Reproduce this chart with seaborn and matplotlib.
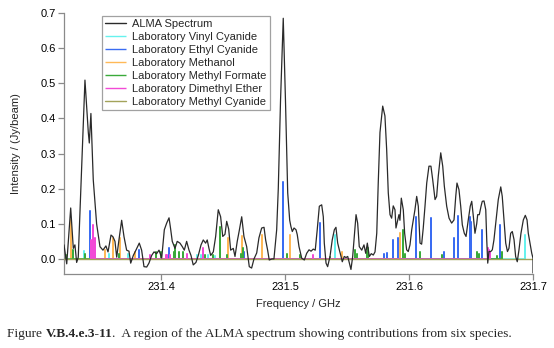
import matplotlib
matplotlib.use("Agg")
import matplotlib.pyplot as plt
import seaborn as sns
import pandas as pd

# ---- ALMA spectrum (frequency GHz, intensity Jy/beam) ----
alma_freq = [231.3218, 231.3240, 231.3272, 231.3293, 231.3306, 231.3320, 231.3333, 231.3360,
             231.3387, 231.3414, 231.3422, 231.3435, 231.3454, 231.3481, 231.3508, 231.3532,
             231.3556, 231.3573, 231.3597, 231.3613, 231.3629, 231.3643, 231.3661, 231.3683,
             231.3702, 231.3723, 231.3742, 231.3756, 231.3777, 231.3798, 231.3825, 231.3844,
             231.3863, 231.3885, 231.3903, 231.3925, 231.3944, 231.3965, 231.3984, 231.4006,
             231.4027, 231.4046, 231.4065, 231.4078, 231.4091, 231.4113, 231.4131, 231.4153,
             231.4172, 231.4188, 231.4207, 231.4226, 231.4242, 231.4260, 231.4282, 231.4301,
             231.4323, 231.4341, 231.4360, 231.4373, 231.4387, 231.4401, 231.4422, 231.4441,
             231.4462, 231.4481, 231.4498, 231.4516, 231.4530, 231.4546, 231.4562, 231.4583,
             231.4597, 231.4615, 231.4631, 231.4651, 231.4669, 231.4691, 231.4712, 231.4731,
             231.4750, 231.4772, 231.4790, 231.4812, 231.4831, 231.4844, 231.4860, 231.4873,
             231.4895, 231.4911, 231.4933, 231.4946, 231.4964, 231.4986, 231.5004, 231.5022,
             231.5038, 231.5048, 231.5059, 231.5073, 231.5089, 231.5099, 231.5113, 231.5135,
             231.5156, 231.5175, 231.5194, 231.5210, 231.5228, 231.5244, 231.5260, 231.5277,
             231.5296, 231.5309, 231.5317, 231.5331, 231.5344, 231.5363, 231.5381, 231.5398,
             231.5411, 231.5425, 231.5438, 231.5452, 231.5462, 231.5478, 231.5492, 231.5506,
             231.5519, 231.5532, 231.5546, 231.5559, 231.5573, 231.5586, 231.5599, 231.5619,
             231.5637, 231.5651, 231.5664, 231.5680, 231.5696, 231.5712, 231.5726, 231.5740,
             231.5752, 231.5766, 231.5788, 231.5806, 231.5820, 231.5833, 231.5847, 231.5860,
             231.5873, 231.5887, 231.5895, 231.5909, 231.5919, 231.5927, 231.5938, 231.5954,
             231.5965, 231.5981, 231.5994, 231.6008, 231.6022, 231.6035, 231.6048, 231.6062,
             231.6075, 231.6089, 231.6102, 231.6115, 231.6129, 231.6143, 231.6161, 231.6177,
             231.6191, 231.6210, 231.6223, 231.6236, 231.6256, 231.6272, 231.6285, 231.6304,
             231.6323, 231.6344, 231.6363, 231.6377, 231.6387, 231.6403, 231.6417, 231.6430,
             231.6446, 231.6460, 231.6478, 231.6494, 231.6506, 231.6519, 231.6532, 231.6546,
             231.6554, 231.6567, 231.6581, 231.6591, 231.6605, 231.6619, 231.6627, 231.6635,
             231.6645, 231.6659, 231.6672, 231.6685, 231.6702, 231.6720, 231.6740, 231.6752,
             231.6766, 231.6780, 231.6794, 231.6806, 231.6820, 231.6833, 231.6847, 231.6860,
             231.6873, 231.6887, 231.6903, 231.6922, 231.6938, 231.6952, 231.6962, 231.6976,
             231.6990, 231.7000, 231.7000]
alma_int = [0.040, -0.014, 0.145, 0.030, 0.040, -0.010, 0.005, 0.254,
            0.509, 0.360, 0.330, 0.414, 0.225, 0.100, 0.035, 0.025,
            0.037, 0.020, 0.068, 0.063, 0.050, 0.005, 0.054, 0.110,
            0.063, 0.025, 0.022, -0.012, 0.010, 0.025, 0.045, 0.025,
            -0.022, -0.023, -0.012, 0.010, 0.020, 0.015, 0.025, 0.003,
            0.083, 0.102, 0.117, 0.085, 0.050, 0.030, 0.050, 0.045,
            0.035, 0.025, 0.050, 0.025, 0.010, -0.017, -0.010, 0.010,
            0.040, 0.054, 0.045, 0.054, 0.030, 0.010, 0.020, 0.064,
            0.140, 0.120, 0.064, 0.070, 0.107, 0.085, 0.025, 0.030,
            0.007, 0.050, 0.080, 0.120, 0.064, 0.035, -0.022, -0.026,
            0.000, 0.017, 0.060, 0.088, 0.090, 0.054, 0.025, -0.003,
            0.000, 0.000, 0.083, 0.200, 0.450, 0.685, 0.450, 0.188,
            0.110, 0.092, 0.078, 0.088, 0.083, 0.069, 0.035, 0.002,
            -0.003, 0.016, 0.026, 0.022, 0.028, 0.025, 0.083, 0.150,
            0.154, 0.120, 0.045, -0.012, -0.022, 0.007, 0.054, 0.083,
            0.090, 0.045, 0.026, 0.007, -0.008, 0.007, 0.004, 0.007,
            -0.012, -0.030, 0.007, 0.064, 0.126, 0.102, 0.035, 0.025,
            0.040, 0.016, 0.045, 0.007, 0.015, 0.011, 0.020, 0.073,
            0.216, 0.360, 0.435, 0.407, 0.311, 0.188, 0.126, 0.116,
            0.151, 0.140, 0.088, 0.111, 0.126, 0.110, 0.173, 0.140,
            0.073, 0.026, 0.021, 0.040, 0.083, 0.111, 0.140, 0.178,
            0.150, 0.045, 0.042, 0.088, 0.150, 0.216, 0.264, 0.264,
            0.226, 0.169, 0.178, 0.235, 0.302, 0.264, 0.207, 0.150,
            0.116, 0.102, 0.111, 0.178, 0.216, 0.197, 0.150, 0.097,
            0.073, 0.064, 0.111, 0.150, 0.164, 0.121, 0.073, 0.100,
            0.126, 0.126, 0.150, 0.164, 0.165, 0.140, 0.054, -0.012,
            0.021, 0.021, 0.026, 0.054, 0.111, 0.169, 0.205, 0.178,
            0.111, 0.045, 0.021, 0.030, 0.073, 0.078, 0.055, 0.007,
            -0.008, 0.026, 0.073, 0.111, 0.124, 0.111, 0.073, 0.045,
            0.016, 0.002, -0.040]

# ---- Laboratory stick spectra ----
vinyl_freq = [231.3285, 231.3379, 231.3583, 231.3736, 231.4288, 231.4320, 231.4381, 231.4435,
              231.5403, 231.6935]
vinyl_int = [0.025, 0.023, 0.015, 0.015, 0.010, 0.010, 0.010, 0.008, 0.069, 0.069]

ethyl_freq = [231.3427, 231.3462, 231.3823, 231.4067, 231.4669, 231.4981, 231.5282, 231.5798,
              231.5825, 231.5869, 231.5909, 231.6056, 231.6177, 231.6282, 231.6365, 231.6398,
              231.6492, 231.6503, 231.6591, 231.6734]
ethyl_int = [0.135, 0.020, 0.026, 0.030, 0.020, 0.220, 0.102, 0.015,
             0.017, 0.054, 0.060, 0.120, 0.116, 0.020, 0.059, 0.123,
             0.120, 0.105, 0.083, 0.097]

methanol_freq = [231.3272, 231.3548, 231.3610, 231.3672, 231.3790, 231.4543, 231.4651, 231.4812,
                 231.5040, 231.5457, 231.5927]
methanol_int = [0.110, 0.026, 0.059, 0.059, 0.020, 0.059, 0.064, 0.069, 0.069, 0.020, 0.073]

formate_freq = [231.3234, 231.3288, 231.3387, 231.3659, 231.3957, 231.4000, 231.4105, 231.4113,
                231.4148, 231.4180, 231.4355, 231.4422, 231.4472, 231.4530, 231.4643, 231.4659,
                231.5019, 231.5121, 231.5363, 231.5565, 231.5583, 231.5659, 231.5672, 231.5949,
                231.5968, 231.6089, 231.6269, 231.6546, 231.6565, 231.6710, 231.6752]
formate_int = [0.010, 0.026, 0.015, 0.015, 0.020, 0.020, 0.020, 0.040,
               0.020, 0.020, 0.010, 0.010, 0.092, 0.010, 0.015, 0.030,
               0.015, 0.010, 0.005, 0.025, 0.015, 0.020, 0.030, 0.083,
               0.015, 0.020, 0.010, 0.020, 0.015, 0.008, 0.020]

dme_freq = [231.3433, 231.3449, 231.3470, 231.3911, 231.4038, 231.4051, 231.4075, 231.4212,
            231.4341, 231.5228, 231.6637, 231.6645, 231.6656]
dme_int = [0.054, 0.097, 0.059, 0.011, 0.010, 0.010, 0.012, 0.013,
           0.030, 0.012, 0.030, 0.026, 0.020]

mecn_freq = [231.3218, 231.7000]
mecn_int = [0.0, 0.0]

labels = ["ALMA Spectrum", "Laboratory Vinyl Cyanide", "Laboratory Ethyl Cyanide",
          "Laboratory Methanol", "Laboratory Methyl Formate", "Laboratory Dimethyl Ether",
          "Laboratory Methyl Cyanide"]
colors = ["#2a2a2a", "#66f2ee", "#3a6cf2", "#ffb957", "#3aaa3a", "#f24ad6", "#a3a35a"]

x_ticks = [231.4, 231.5, 231.6, 231.7]
x_ticklabels = ["231.4", "231.5", "231.6", "231.7"]
y_ticks = [0.0, 0.1, 0.2, 0.3, 0.4, 0.5, 0.6, 0.7]
y_ticklabels = ["0.0", "0.1", "0.2", "0.3", "0.4", "0.5", "0.6", "0.7"]


def sticks(freq, inten):
    xs, ys = [], []
    for f, h in zip(freq, inten):
        xs += [f, f, f]
        ys += [0.0, h, 0.0]
    return xs, ys


sns.set_theme(style="white")
plt.rcParams['font.family'] = ['Liberation Sans', 'DejaVu Sans']

fig = plt.figure(figsize=(5.54, 3.48), dpi=100)
ax = fig.add_axes([64 / 554, 1 - 274 / 348, (533 - 64) / 554, (274 - 13) / 348])

species = [(vinyl_freq, vinyl_int), (ethyl_freq, ethyl_int), (methanol_freq, methanol_int),
           (formate_freq, formate_int), (dme_freq, dme_int)]

spec_df = pd.DataFrame({"freq": alma_freq, "intensity": alma_int})
sns.lineplot(data=spec_df, x="freq", y="intensity", sort=False, estimator=None,
             color=colors[0], lw=0.9, ax=ax, label=labels[0], zorder=5)

for i, (fr, it) in enumerate(species):
    xs, ys = sticks(fr, it)
    ax.plot(xs, ys, color=colors[i + 1], lw=1.1, label=labels[i + 1], zorder=3,
            solid_capstyle="butt")
ax.plot(mecn_freq, mecn_int, color=colors[6], lw=1.0, label=labels[6], zorder=4)

ax.set_xlim(231.3218, 231.7)
ax.set_ylim(-0.0429, 0.7)
ax.set_xticks(x_ticks)
ax.set_xticklabels(x_ticklabels)
ax.set_yticks(y_ticks)
ax.set_yticklabels(y_ticklabels)

for s in ["top", "right"]:
    ax.spines[s].set_visible(False)
for s in ["left", "bottom"]:
    ax.spines[s].set_color("#8a8a8a")
    ax.spines[s].set_linewidth(0.9)
ax.tick_params(axis="both", direction="out", length=4, width=0.9, color="#8a8a8a",
               labelsize=8, pad=2, labelcolor="black")
ax.tick_params(axis="both", which="both", bottom=True, left=True)

ax.set_xlabel("Frequency / GHz", fontsize=8, labelpad=5)
ax.set_ylabel("Intensity / (Jy/beam)", fontsize=8, labelpad=14)

leg = ax.legend(loc="upper left", bbox_to_anchor=((102 - 64) / 469, (274 - 16) / 261),
                borderaxespad=0, fontsize=8, frameon=True, fancybox=False,
                handlelength=1.9, handletextpad=0.5, labelspacing=0.26,
                borderpad=0.3)
leg.get_frame().set_edgecolor("#8a8a8a")
leg.get_frame().set_linewidth(0.9)
for h in leg.get_lines():
    h.set_linewidth(1.0)

# caption
renderer = fig.canvas.get_renderer()
cap_y = 1 - 337 / 348
x0 = 7 / 554
parts = [("Figure ", "normal"), ("V.B.4.e.3-11", "bold"),
         (".  A region of the ALMA spectrum showing contributions from six species.", "normal")]
for txt, wt in parts:
    t = fig.text(x0, cap_y, txt, fontsize=9.6, fontweight=wt,
                 family=["Liberation Serif", "DejaVu Serif"], va="baseline", ha="left")
    bb = t.get_window_extent(renderer=renderer)
    x0 += bb.width / fig.bbox.width

fig.savefig("out.png", dpi=100)
